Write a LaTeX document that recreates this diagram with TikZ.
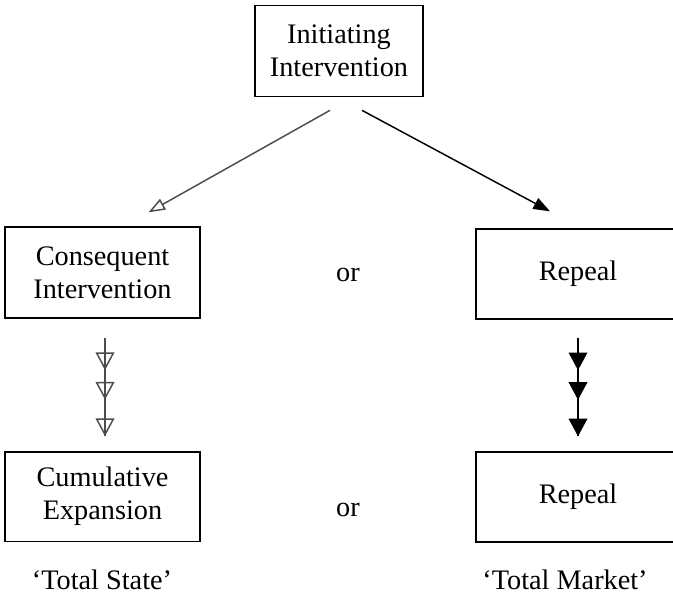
\documentclass[tikz,border=0pt]{standalone}
\usepackage{fontspec}
\setmainfont{Liberation Serif}
\usetikzlibrary{arrows.meta,decorations.markings}

\begin{document}
\begin{tikzpicture}[x=0.75pt,y=-0.75pt,
        txt/.style={font=\fontsize{21.2}{25}\selectfont},
        box/.style={txt, draw, line width=1pt, align=center, inner sep=0pt},
        grayline/.style={black!70, line width=1.1pt},
        blackline/.style={black, line width=1.1pt},
        openhead/.style={-{Triangle[open,length=12.5pt,width=9pt]}},
        fullhead/.style={-{Triangle[length=12.5pt,width=9pt]}}]

        \useasboundingbox (0,0) rectangle (673,607);
        \clip (0,0) rectangle (673,607);

        % boxes
        \node[box, minimum width=126pt, minimum height=68.5pt] (init) at (339,51) {Initiating\\Intervention};
        \node[box, minimum width=146.25pt, minimum height=68.25pt] (cons) at (102.5,272.5) {Consequent\\Intervention};
        \node[box, minimum width=146.25pt, minimum height=67pt] (cum) at (102.5,496.5) {Cumulative\\Expansion};
        \node[box, minimum width=153pt, minimum height=67.5pt] (rep1) at (578,274) {Repeal};
        \node[box, minimum width=153pt, minimum height=67.5pt] (rep2) at (578,497) {Repeal};

        \node[txt] (or1) at (348,275) {or};
        \node[txt] (or2) at (348,510) {or};
        \node[txt] (state) at (102,580) {‘Total State’};
        \node[txt] (market) at (565,580) {‘Total Market’};

        % diagonal arrows
        \draw[grayline, openhead] ([shift={(-9,13)}]init.south) -- ([shift={(46,-14)}]cons.north);
        \draw[blackline, fullhead] ([shift={(23,13)}]init.south) -- ([shift={(-28,-17)}]rep1.north);

        % triple arrows
        \draw[grayline, postaction={decorate}, decoration={markings,
                mark=at position 0.33 with {\arrow{Triangle[open,length=13.3pt,width=14pt]}},
                mark=at position 0.63 with {\arrow{Triangle[open,length=13.3pt,width=14pt]}},
                mark=at position 1 with {\arrow{Triangle[open,length=13.3pt,width=14pt]}}}]
            ([shift={(2.5,19)}]cons.south) -- ([shift={(2.5,-15)}]cum.north);
        \draw[blackline, postaction={decorate}, decoration={markings,
                mark=at position 0.33 with {\arrow{Triangle[length=13.3pt,width=14pt]}},
                mark=at position 0.63 with {\arrow{Triangle[length=13.3pt,width=14pt]}},
                mark=at position 1 with {\arrow{Triangle[length=13.3pt,width=14pt]}}}]
            ([shift={(0,18)}]rep1.south) -- ([shift={(0,-15)}]rep2.north);

\end{tikzpicture}
\end{document}
